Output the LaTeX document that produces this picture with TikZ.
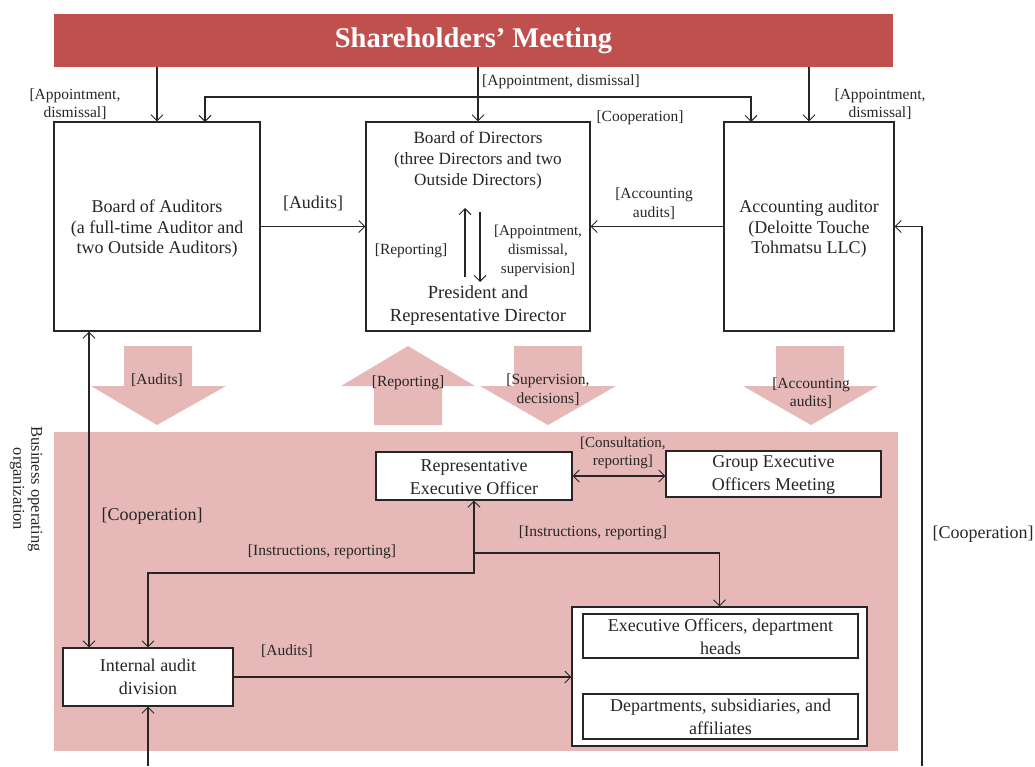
\documentclass[tikz,border=0pt]{standalone}
\usepackage{fontspec}
\setmainfont{Liberation Serif}
\usetikzlibrary{arrows.meta}
\definecolor{banner}{HTML}{C0504D}
\definecolor{pinkbg}{HTML}{E6B8B7}
\definecolor{ink}{HTML}{262626}
\begin{document}
\begin{tikzpicture}[x=1pt,y=-1pt,
 tip/.tip={Straight Barb[length=6pt,width=12pt,line width=1pt]},
 conn/.style={draw=ink, line width=1.1pt, -tip},
 dconn/.style={draw=ink, line width=1.1pt, tip-tip},
 box/.style={draw=ink, line width=1.1pt, fill=white, inner sep=0pt},
 big/.style={font=\fontsize{18}{20.5}\selectfont, align=center, text=ink, inner sep=0pt},
 mid/.style={font=\fontsize{18}{23}\selectfont, align=center, text=ink, inner sep=0pt},
 lbl/.style={font=\fontsize{15.5}{18.5}\selectfont, align=center, text=ink, inner sep=0pt},
 blk/.style={fill=pinkbg, draw=none}]

\useasboundingbox (0,0) rectangle (1035,766);

% banner
\node[fill=banner, minimum width=839pt, minimum height=53pt, inner sep=0pt,
      text=white, font=\fontsize{28.5}{32}\selectfont\bfseries] (sm) at (473.5,40.5) {Shareholders’ Meeting};

% top boxes
\node[box, minimum width=206pt, minimum height=209pt] (boa) at (157,226.5) {};
\node[big] (boat) at (157,229) {Board of Auditors\\(a full-time Auditor and\\two Outside Auditors)};
\node[box, minimum width=224pt, minimum height=209pt] (bod) at (478,226.5) {};
\node[big, font=\fontsize{17.2}{21}\selectfont] (bodt) at (478,160) {Board of Directors\\(three Directors and two\\Outside Directors)};
\node[big, font=\fontsize{18.5}{23}\selectfont] (prt) at (478,305.5) {President and\\Representative Director};
\node[box, minimum width=170pt, minimum height=209pt] (aa) at (809,226.5) {};
\node[big] (aat) at (809,229) {Accounting auditor\\(Deloitte Touche\\Tohmatsu LLC)};

% top connectors
\draw[conn] (boa.north |- sm.south) -- (boa.north);
\draw[conn] (bod.north |- sm.south) -- (bod.north);
\draw[conn] (aa.north |- sm.south) -- (aa.north);
\coordinate (cpa) at (205,122);
\coordinate (cpb) at (751,122);
\draw[dconn] (cpa) -- (205,97) -- (751,97) -- (cpb);
\draw[conn] (boa.east) -- (bod.west);
\draw[conn] (aa.west) -- (bod.east);
\coordinate (rcb) at (922,766);
\draw[conn] (rcb) |- (aa.east);
\coordinate (upa) at (465,277);
\coordinate (upb) at (465,208);
\coordinate (dna) at (480,212);
\coordinate (dnb) at (480,282);
\draw[conn] (upa) -- (upb);
\draw[conn] (dna) -- (dnb);

% top labels
\node[lbl] (l1) at (75,104) {[Appointment,\\dismissal]};
\node[lbl] (l2) at (561,82) {[Appointment, dismissal]};
\node[lbl] (l3) at (880,104) {[Appointment,\\dismissal]};
\node[lbl] (l4) at (640,118) {[Cooperation]};
\node[big] (l5) at (313,203) {[Audits]};
\node[lbl] (l6) at (654,203.5) {[Accounting\\audits]};
\node[lbl] (l7) at (411,251) {[Reporting]};
\node[lbl, font=\fontsize{15}{19}\selectfont] (l8) at (538,251) {[Appointment,\\dismissal,\\supervision]};

% block arrows
\path[blk] (124,346) -- (192,346) -- (192,386) -- (226,386) -- (157,425) -- (91,386) -- (124,386) -- cycle;
\path[blk] (374,425) -- (442,425) -- (442,386) -- (475,386) -- (408,346) -- (341,386) -- (374,386) -- cycle;
\path[blk] (514,346) -- (582,346) -- (582,386) -- (616,386) -- (548,425) -- (480,386) -- (514,386) -- cycle;
\path[blk] (776,346) -- (844,346) -- (844,386) -- (878,386) -- (811,425) -- (743,386) -- (776,386) -- cycle;
\node[lbl] (b1) at (157,380) {[Audits]};
\node[lbl] (b2) at (408,383) {[Reporting]};
\node[lbl] (b3) at (548,389.5) {[Supervision,\\decisions]};
\node[lbl] (b4) at (811,393) {[Accounting\\audits]};

% business operating organization
\path[blk] (54,432) rectangle (898,751);
\node[lbl, rotate=-90, font=\fontsize{16.5}{18}\selectfont] (bo) at (26,489) {Business operating\\organization};

\node[box, minimum width=196pt, minimum height=48pt] (reo) at (474,476) {};
\node[mid] at (474,477) {Representative\\Executive Officer};
\node[box, minimum width=215pt, minimum height=46pt] (geo) at (773.5,474) {};
\node[mid] at (773.5,474.5) {Group Executive\\Officers Meeting};
\node[box, minimum width=170pt, minimum height=58pt] (iad) at (148,677) {};
\node[mid] at (148,677) {Internal audit\\division};
\node[box, minimum width=295pt, minimum height=139pt] (exb) at (719.5,676.5) {};
\node[box, minimum width=275pt, minimum height=44pt] (in1) at (720.5,636) {};
\node[mid] at (720.5,636.5) {Executive Officers, department\\heads};
\node[box, minimum width=275pt, minimum height=45pt] (in2) at (720.5,716.5) {};
\node[mid] at (720.5,716.5) {Departments, subsidiaries, and\\affiliates};

% lower connectors
\draw[dconn] ([xshift=-68pt]boa.south) -- ([xshift=-59pt]iad.north);
\draw[dconn] (reo.east) -- (reo.east -| geo.west);
\draw[dconn] (reo.south) -- (474,573) -| (iad.north);
\draw[conn] (reo.south |- 0,553) -| (exb.north);
\draw[conn] (iad.east) -- (iad.east -| exb.west);
\coordinate (bin) at (148,766);
\draw[conn] (bin) -- (iad.south);

% lower labels
\node[big] (c1) at (152,516) {[Cooperation]};
\node[lbl, anchor=west, font=\fontsize{15}{18}\selectfont] (c2) at (580,453) {[Consultation,\\reporting]};
\node[lbl] (c3) at (322,552) {[Instructions, reporting]};
\node[lbl] (c4) at (593,533) {[Instructions, reporting]};
\node[lbl] (c5) at (287,651) {[Audits]};
\node[big] (c6) at (983,534) {[Cooperation]};
\end{tikzpicture}
\end{document}
